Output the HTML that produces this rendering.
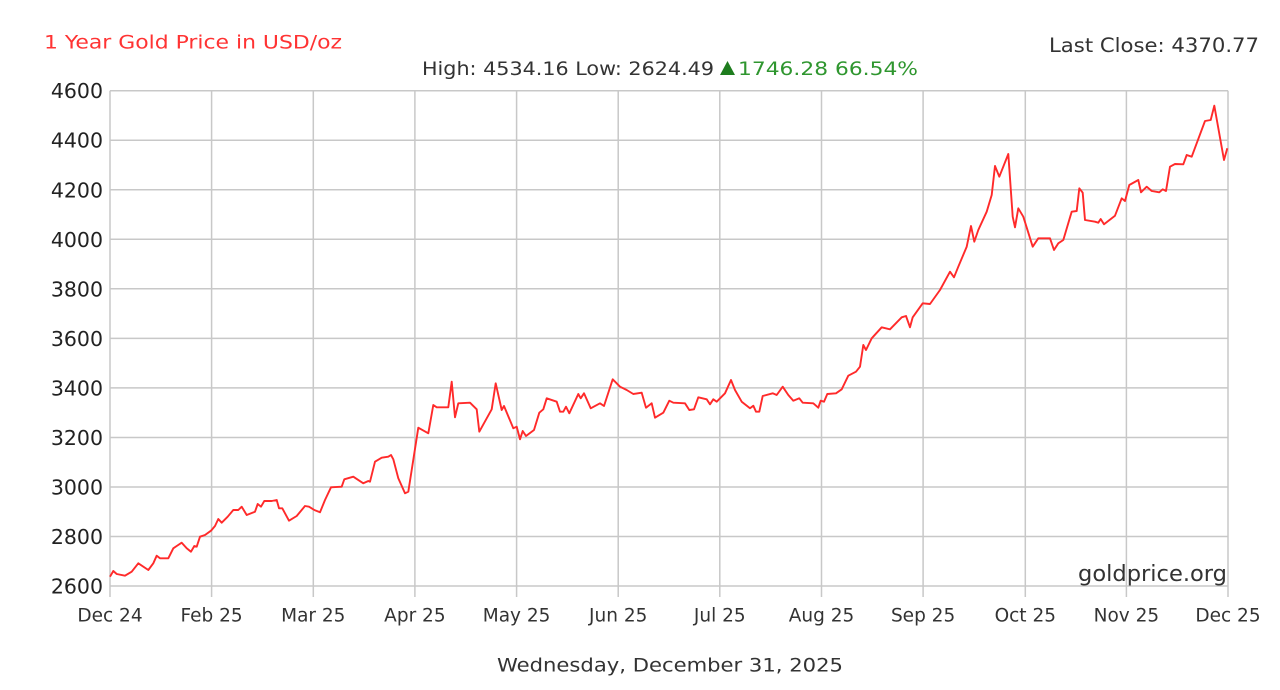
<!DOCTYPE html>
<html><head><meta charset="utf-8"><style>
html,body{margin:0;padding:0;background:#fff;}
svg{display:block;}
text{font-family:"DejaVu Sans","Liberation Sans",sans-serif;}
</style></head><body>
<svg width="1280" height="690" viewBox="0 0 1280 690" xmlns="http://www.w3.org/2000/svg">
<rect x="0" y="0" width="1280" height="690" fill="#fff"/>
<!-- header -->
<text x="44" y="48.5" font-size="19" fill="#ff3333" textLength="298" lengthAdjust="spacingAndGlyphs">1 Year Gold Price in USD/oz</text>
<text x="1049" y="52" font-size="19.5" fill="#333" textLength="210" lengthAdjust="spacingAndGlyphs">Last Close: 4370.77</text>
<text x="422" y="75" font-size="19" fill="#333" textLength="292" lengthAdjust="spacingAndGlyphs">High: 4534.16 Low: 2624.49</text>
<polygon points="720,75 735,75 727.5,61" fill="#1e7d1e"/>
<text x="738" y="75" font-size="19" fill="#2f962f" textLength="180" lengthAdjust="spacingAndGlyphs">1746.28 66.54%</text>

<!-- grid -->
<g stroke="#c8c8c8" stroke-width="1.5" fill="none">
<line x1="110" y1="90.7" x2="1228" y2="90.7"/>
<line x1="110" y1="140.2" x2="1228" y2="140.2"/>
<line x1="110" y1="189.8" x2="1228" y2="189.8"/>
<line x1="110" y1="239.3" x2="1228" y2="239.3"/>
<line x1="110" y1="288.8" x2="1228" y2="288.8"/>
<line x1="110" y1="338.4" x2="1228" y2="338.4"/>
<line x1="110" y1="387.9" x2="1228" y2="387.9"/>
<line x1="110" y1="437.5" x2="1228" y2="437.5"/>
<line x1="110" y1="487" x2="1228" y2="487"/>
<line x1="110" y1="536.5" x2="1228" y2="536.5"/>
<line x1="110" y1="586" x2="1228" y2="586"/>
<line x1="110" y1="90.7" x2="110" y2="597"/>
<line x1="211.6" y1="90.7" x2="211.6" y2="597"/>
<line x1="313.3" y1="90.7" x2="313.3" y2="597"/>
<line x1="414.9" y1="90.7" x2="414.9" y2="597"/>
<line x1="516.6" y1="90.7" x2="516.6" y2="597"/>
<line x1="618.2" y1="90.7" x2="618.2" y2="597"/>
<line x1="719.8" y1="90.7" x2="719.8" y2="597"/>
<line x1="821.5" y1="90.7" x2="821.5" y2="597"/>
<line x1="923.1" y1="90.7" x2="923.1" y2="597"/>
<line x1="1025.3" y1="90.7" x2="1025.3" y2="597"/>
<line x1="1126.4" y1="90.7" x2="1126.4" y2="597"/>
<line x1="1228" y1="90.7" x2="1228" y2="597"/>
</g>

<!-- y labels -->
<g font-size="20.5" fill="#222" text-anchor="end">
<text x="103" y="98.2">4600</text>
<text x="103" y="147.7">4400</text>
<text x="103" y="197.3">4200</text>
<text x="103" y="246.8">4000</text>
<text x="103" y="296.3">3800</text>
<text x="103" y="345.9">3600</text>
<text x="103" y="395.4">3400</text>
<text x="103" y="445">3200</text>
<text x="103" y="494.5">3000</text>
<text x="103" y="544">2800</text>
<text x="103" y="593.5">2600</text>
</g>

<!-- x labels -->
<g font-size="18.5" fill="#333" text-anchor="middle">
<text x="110" y="621.5">Dec 24</text>
<text x="211.6" y="621.5">Feb 25</text>
<text x="313.3" y="621.5">Mar 25</text>
<text x="414.9" y="621.5">Apr 25</text>
<text x="516.6" y="621.5">May 25</text>
<text x="618.2" y="621.5">Jun 25</text>
<text x="719.8" y="621.5">Jul 25</text>
<text x="821.5" y="621.5">Aug 25</text>
<text x="923.1" y="621.5">Sep 25</text>
<text x="1025.3" y="621.5">Oct 25</text>
<text x="1126.4" y="621.5">Nov 25</text>
<text x="1228" y="621.5">Dec 25</text>
</g>

<text x="1078" y="581" font-size="22" fill="#333" textLength="149" lengthAdjust="spacingAndGlyphs">goldprice.org</text>
<text x="497" y="671.5" font-size="19" fill="#333" textLength="346" lengthAdjust="spacingAndGlyphs">Wednesday, December 31, 2025</text>

<!-- series -->
<polyline fill="none" stroke="#ff2a2a" stroke-width="1.9" stroke-linejoin="round" points="
110,576.7 113.3,571 116.7,574 125,575.7 131.7,571.7 138.3,563.3 148.3,570 153.3,563.3 156.7,555.7 160,558.3 168.3,558.3 173.3,548.3 176.7,546 181.7,542.7 186.7,548.3 191,551.7 194.3,546 196.7,546.7 200,536.7 205,535 211,530.7 215,526 218.3,519 221.7,522.7 227.7,516.7 233.3,510 238.3,510 241.7,506.7 246.7,515 255,511.7 257.7,504 261,506.7 264.3,501 271.7,501 276.7,500 279,508.3 282.3,508.3 289,520.7 296.7,516 305,506 309,506.7 314.3,510 320,512.3 325,500 331,487.3 341.7,486.7 344.3,479.3 353.3,476.7 363.3,483.3 368.3,481 370,481.7 375,461.7 381.7,457.7 388.3,456.7 391,455 393.3,459.3 398.3,478.3 405,493.3 408.3,491.7 411.7,470 418.3,427.7 428.3,433.3 433.3,405 436.7,407.3 448.3,407.3 451.7,381.7 455,417.3 458.3,403.3 470,402.7 476.7,409.3 479.3,431.7 491.7,409.3 495.7,383.3 501.7,410 504,406 513.3,428.3 516.7,426.7 520,439.3 522.7,431 526,436 534,430 539.3,412.7 543.3,409.3 546.7,398.3 556.7,401.7 560,411.7 563.3,411.7 566,406.7 569.3,413.3 578.3,394 580.7,398.3 584,393.3 590.7,408.3 600,403.3 604,406 612.7,379.3 620,386.7 626.7,390 633.3,394 641.7,392.7 646,407.7 651.7,403.3 655,417.7 663.3,412.7 669.3,400.7 673.3,402.7 685,403.3 689.3,410 694,409.3 698.3,397.3 706.7,399.3 710,404.3 713.3,399.3 716.7,401.7 725,393.3 731,380 735,390 741.7,401.7 750,408.3 753.3,405.7 756,411.7 759.3,411.7 762.7,396 772.7,393.3 776.7,395 782.7,386.7 788.3,395 793.3,400.7 799.3,398.3 802.7,402.7 813.3,403.3 818.3,407.7 820.7,400.7 824,401.7 827.3,394 836,393.3 841.7,389.3 848.3,375.7 856,371.7 860,366.7 863.3,345 866,350 871.7,338.3 881.7,327.3 890,329.3 901.7,317.3 906,316 910,327.3 912.7,317.3 922.7,303.3 930,304 940,290 950,271.7 954,277.3 958.3,266.7 966.7,246.7 971,226 974.3,241.7 978.3,230 986.7,211.7 991.7,195 995,166 999.3,176.7 1008.3,154 1012.7,216.7 1015,227.3 1018.3,208.3 1023.3,216.7 1032.7,246.7 1038.3,238.3 1050,238.3 1054,250 1058.3,243.3 1063.3,240 1071.7,211.7 1076.7,211 1079.3,188.3 1082.7,192.7 1085,220 1095,221.7 1098.3,222.7 1100.7,219 1104,224.3 1115,215.7 1121.7,198.3 1125,201 1129.3,185 1138.3,180 1141,192.3 1146.7,186.7 1151.7,191 1159.3,192.3 1162.7,189.3 1166,191 1170,166.7 1175,164 1183.3,164.3 1186.7,155 1191.7,156.7 1205,121 1210.7,120 1214.3,105.7 1224,160 1227.3,148.3"/>
</svg>
</body></html>
